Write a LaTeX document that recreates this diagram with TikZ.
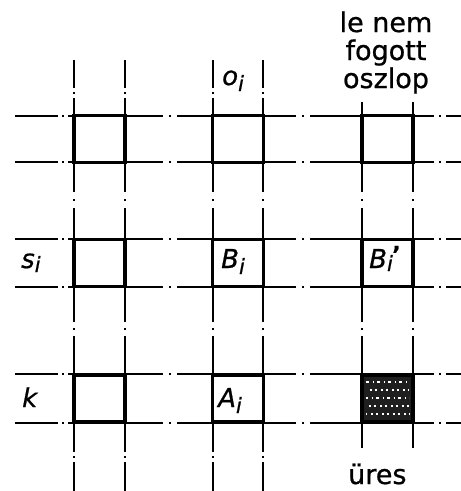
\documentclass[tikz,border=0pt]{standalone}
\usepackage{fontspec}
\setmainfont{DejaVu Sans}[FakeBold=0.8]
\newcommand\lowi[2][6pt]{\raisebox{-#1}{\fontsize{21}{21}\selectfont #2}}
\begin{document}
\begin{tikzpicture}[x=1pt,y=-1pt,
  gridline/.style={line width=1.2pt},
  dotmark/.style={line width=1.6pt},
  cell/.style={draw,line width=3.2pt,inner sep=0pt,outer sep=0pt,minimum width=51pt,minimum height=47pt},
  lbl/.style={font=\fontsize{26}{28}\selectfont\itshape,inner sep=0pt,anchor=base west},
  txt/.style={font=\fontsize{27}{28}\selectfont,inner sep=0pt,align=center}]
\useasboundingbox (0,0) rectangle (461,491);
% vertical lines, columns 1 and 2
\foreach \x in {74,125,213,263}{
  \draw[gridline] (\x,60) -- (\x,88) (\x,98) -- (\x,192) (\x,208) -- (\x,322) (\x,336) -- (\x,452) (\x,462) -- (\x,491);
  \draw[dotmark] (\x,92) -- (\x,94) (\x,199) -- (\x,201) (\x,328) -- (\x,330) (\x,456) -- (\x,458);
}
% vertical lines, column 3
\foreach \x in {362,413}{
  \draw[gridline] (\x,102) -- (\x,192) (\x,208) -- (\x,322) (\x,336) -- (\x,448);
  \draw[dotmark] (\x,199) -- (\x,201) (\x,328) -- (\x,330);
}
% horizontal lines
\foreach \y in {116,162,239,287,374,423}{
  \draw[gridline] (15,\y) -- (58,\y) (68,\y) -- (163,\y) (177,\y) -- (296,\y) (310,\y) -- (434,\y) (446,\y) -- (461,\y);
  \draw[dotmark] (62,\y) -- (64,\y) (169,\y) -- (171,\y) (302,\y) -- (304,\y) (439,\y) -- (441,\y);
}
% cells
\node[cell] (c11) at (99.5,139) {};
\node[cell] (c12) at (238,139) {};
\node[cell] (c13) at (387.5,139) {};
\node[cell] (c21) at (99.5,263) {};
\node[cell] (c22) at (238,263) {};
\node[cell] (c23) at (387.5,263) {};
\node[cell] (c31) at (99.5,398.5) {};
\node[cell] (c32) at (238,398.5) {};
\node[cell,fill=black!88] (c33) at (387.5,398.5) {};
\foreach \yy/\ph in {382/0,390/2.5,398/1,406/3.5,414/1.5}{
  \draw[white,line width=1.2pt,dash pattern=on 2.5pt off 4pt on 1.5pt off 3pt,dash phase=\ph pt] (366,\yy) -- (409,\yy);
}
% labels
\node[lbl] (oi) at (222,85) {o\lowi{i}};
\node[lbl] (si) at (21,268) {s\lowi[4pt]{i}};
\node[lbl] (bi) at (221,268) {B\lowi{i}};
\node[lbl] (bip) at (369,268) {B\lowi[3pt]{i}};
\node[font=\fontsize{22}{22}\selectfont\bfseries,inner sep=0pt,anchor=base west] (prime) at (392,262) {'};
\node[lbl] (k) at (22,407) {k};
\node[lbl] (ai) at (218,407) {A\lowi{i}};
\node[txt,anchor=base] (head) at (386,88) {le nem\\fogott\\oszlop};
\node[txt,anchor=base west] (ures) at (348,484) {üres};
\end{tikzpicture}
\end{document}
